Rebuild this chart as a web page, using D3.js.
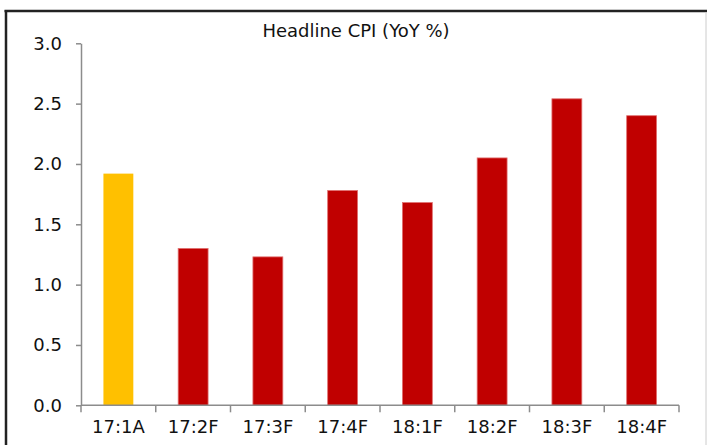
<!DOCTYPE html>
<html>
<head>
<meta charset="utf-8">
<script src="https://cdn.jsdelivr.net/npm/d3@7"></script>
<style>
  body { margin: 0; background: #fff; }
  svg text { font-family: "DejaVu Sans", sans-serif; }
</style>
</head>
<body>
<div id="container"></div>
<script>
// data
const categories = ["17:1A", "17:2F", "17:3F", "17:4F", "18:1F", "18:2F", "18:3F", "18:4F"]
const cpiValues = [1.92, 1.30, 1.23, 1.78, 1.68, 2.05, 2.54, 2.40]
const isActual = [true, false, false, false, false, false, false, false]
const yTicks = [0, 0.5, 1.0, 1.5, 2.0, 2.5, 3.0]
const chartTitle = "Headline CPI (YoY %)"

const width = 707, height = 445

const svg = d3.select("#container").append("svg")
  .attr("width", width)
  .attr("height", height)

// frame around the chart (bottom is cut off in the picture)
svg.append("line").attr("x1", 4.5).attr("x2", 707).attr("y1", 11).attr("y2", 11)
  .attr("stroke", "#222").attr("stroke-width", 2.5)
svg.append("line").attr("x1", 6).attr("x2", 6).attr("y1", 10).attr("y2", 445)
  .attr("stroke", "#222").attr("stroke-width", 2.5)
svg.append("line").attr("x1", 706).attr("x2", 706).attr("y1", 12).attr("y2", 445)
  .attr("stroke", "#ccc").attr("stroke-width", 1)

const x = d3.scaleBand()
  .domain(categories)
  .range([81, 679])
  .padding(0)

const y = d3.scaleLinear()
  .domain([0, 3])
  .range([405.3, 43.3])

// title
svg.append("text")
  .attr("x", 356)
  .attr("y", 37)
  .attr("text-anchor", "middle")
  .style("font-size", "18px")
  .style("fill", "#111")
  .text(chartTitle)

// bars
const barW = x.bandwidth() * 0.4
svg.selectAll("rect.bar")
  .data(cpiValues)
  .enter()
  .append("rect")
    .attr("class", "bar")
    .attr("x", (d, i) => x(categories[i]) + (x.bandwidth() - barW) / 2)
    .attr("y", d => y(d))
    .attr("width", barW)
    .attr("height", d => y(0) - y(d))
    .style("fill", (d, i) => isActual[i] ? "#FFC000" : "#C00000")
    .style("stroke", (d, i) => isActual[i] ? "none" : "#e07070")
    .style("stroke-width", 0.8)

// y axis
const yAxis = svg.append("g")
  .attr("transform", "translate(81,0)")
  .call(d3.axisLeft(y)
    .tickValues(yTicks)
    .tickFormat(d3.format(".1f"))
    .tickSizeInner(5)
    .tickSizeOuter(0)
    .tickPadding(14))
  .attr("font-family", null)
  .attr("font-size", null)
yAxis.select(".domain").attr("stroke", "#8c8c8c").attr("stroke-width", 1.5)
yAxis.selectAll(".tick line").attr("stroke", "#8c8c8c").attr("stroke-width", 1.5)
yAxis.selectAll("text").style("font-size", "18px").style("fill", "#111")

// x axis: labels from the band scale, ticks at category boundaries
const xAxis = svg.append("g")
  .attr("transform", "translate(0," + y(0) + ")")
  .call(d3.axisBottom(x).tickSize(0).tickPadding(15))
  .attr("font-family", null)
  .attr("font-size", null)
xAxis.select(".domain").remove()
xAxis.selectAll("text").style("font-size", "18px").style("fill", "#111")

svg.append("line")
  .attr("x1", x.range()[0]).attr("x2", x.range()[1])
  .attr("y1", y(0)).attr("y2", y(0))
  .attr("stroke", "#8c8c8c").attr("stroke-width", 1.5)

const bounds = categories.map(c => x(c)).concat([x(categories[categories.length - 1]) + x.bandwidth()])
svg.selectAll("line.xtick")
  .data(bounds)
  .enter()
  .append("line")
    .attr("class", "xtick")
    .attr("x1", d => d).attr("x2", d => d)
    .attr("y1", y(0)).attr("y2", y(0) + 7)
    .attr("stroke", "#8c8c8c").attr("stroke-width", 1.5)
</script>
</body>
</html>
